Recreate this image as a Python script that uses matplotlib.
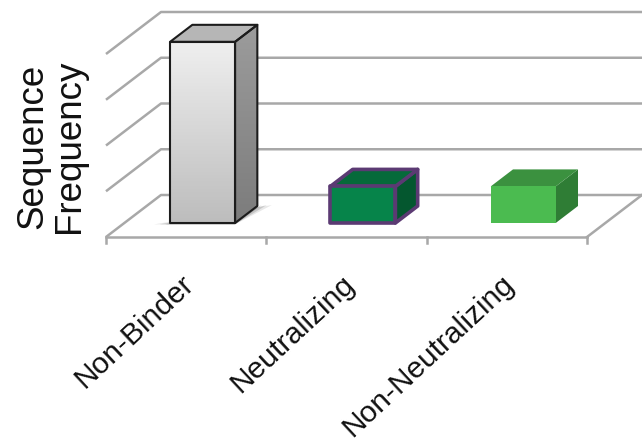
import numpy as np
from matplotlib import pyplot as plt
from matplotlib.colors import LinearSegmentedColormap
from matplotlib.patches import Polygon

categories = ['Non-Binder', 'Neutralizing', 'Non-Neutralizing']
values = [3.96, 0.8, 0.8]
grid_levels = [0, 1, 2, 3, 4]

front_colors = [None, '#06844a', '#4bbb50']
top_colors = ['#b6b6b6', '#066a3a', '#3b913f']
side_colors = [None, '#04572f', '#2f7d35']
edge_colors = ['#1c1c1c', '#5b3a73', None]
edge_widths = [1.5, 2.6, 0]

plt.rcParams['font.family'] = ['Liberation Sans', 'DejaVu Sans']

W, H = 642, 446
unit = 45.75
left, right, floor = 106, 587, 237

fig = plt.figure(figsize=(W / 100, H / 100), dpi=100)
ax = fig.add_axes([left / W, (H - floor) / H, (right - left) / W, 5 * unit / H])
ax.axis('off')

# oblique floor: depth is given in data units
depth_x = 55 / ((right - left) / 3)
depth_y = 42 / unit


def shift(x, y, d):
    return x + d * depth_x, y + d * depth_y


grid_color = '#a8a8a8'
grid_lw = 1.8
for level in grid_levels:
    x0, y0 = shift(0, level, 0)
    x1, y1 = shift(0, level, 1)
    ax.plot([x0, x1, 3.4], [y0, y1, y1], color=grid_color, lw=grid_lw, clip_on=False,
            solid_capstyle='butt', zorder=1)

# floor front edge, right corner and ticks
ax.plot([0, 3], [0, 0], color=grid_color, lw=grid_lw, clip_on=False, zorder=1)
ax.plot(*zip(shift(3, 0, 0), shift(3, 0, 1)), color=grid_color, lw=grid_lw, clip_on=False, zorder=1)
for t in range(4):
    ax.plot([t, t], [0, -0.13], color=grid_color, lw=grid_lw, clip_on=False, zorder=1)

bar_w = 65 / ((right - left) / 3)
d_front = 14 / 42
d_back = 31 / 42

ramp = np.linspace(0, 1, 64).reshape(-1, 1)

for i, val in enumerate(values):
    xa = i + 0.488 - bar_w / 2
    xb = xa + bar_w
    fa = shift(xa, 0, d_front)
    fb = shift(xb, 0, d_front)
    ta = shift(xa, val, d_front)
    tb = shift(xb, val, d_front)
    ba = shift(xa, val, d_back)
    bb = shift(xb, val, d_back)
    bc = shift(xb, 0, d_back)
    front = [fa, fb, tb, ta]
    side = [fb, bc, bb, tb]
    top = [ta, tb, bb, ba]
    ec = edge_colors[i] if edge_colors[i] else 'none'
    lw = edge_widths[i]

    if i == 0:
        # soft shadow on the floor
        for grow, alpha in [(0.10, 0.12), (0.065, 0.2), (0.03, 0.3)]:
            shadow = [(fa[0] - grow, fa[1] - 0.03), (fb[0], fb[1] - 0.03),
                      (bc[0] + grow * 0.9, bc[1] + 0.02), (bc[0], bc[1] - 0.03)]
            ax.add_patch(Polygon(shadow, fc='#444444', ec='none', alpha=alpha, zorder=2))
        # gradient faces
        im = ax.imshow(ramp, cmap=LinearSegmentedColormap.from_list('f', ['#bdbdbd', '#efefef']),
                       extent=[fa[0], fb[0], fa[1], ta[1]], origin='lower', aspect='auto', zorder=3)
        im.set_clip_path(Polygon(front, transform=ax.transData))
        im2 = ax.imshow(ramp, cmap=LinearSegmentedColormap.from_list('s', ['#7c7c7c', '#9c9c9c']),
                        extent=[fb[0], bb[0], fb[1], bb[1]], origin='lower', aspect='auto', zorder=3)
        im2.set_clip_path(Polygon(side, transform=ax.transData))
        ax.add_patch(Polygon(front, fc='none', ec=ec, lw=lw, joinstyle='round', zorder=4))
        ax.add_patch(Polygon(side, fc='none', ec=ec, lw=lw, joinstyle='round', zorder=4))
    else:
        ax.add_patch(Polygon(side, fc=side_colors[i], ec=ec, lw=lw, joinstyle='round', zorder=3))
        ax.add_patch(Polygon(front, fc=front_colors[i], ec=ec, lw=lw, joinstyle='round', zorder=4))
    ax.add_patch(Polygon(top, fc=top_colors[i], ec=ec, lw=lw, joinstyle='round', zorder=3))

ax.set_xlim(0, 3)
ax.set_ylim(0, 5)

for i, name in enumerate(categories):
    ax.annotate(name, xy=(i + 0.5, 0), xytext=(-6, -33), textcoords='offset pixels',
                rotation=43, rotation_mode='anchor', ha='right', va='top',
                fontsize=21.5, color='#111111', annotation_clip=False)

fig.text(51 / W, 1 - 146 / H, 'Sequence\nFrequency', rotation=90, ha='center', va='center',
         fontsize=26.5, color='#111111', linespacing=1.05, multialignment='center')

fig.savefig('out.png', dpi=100)
